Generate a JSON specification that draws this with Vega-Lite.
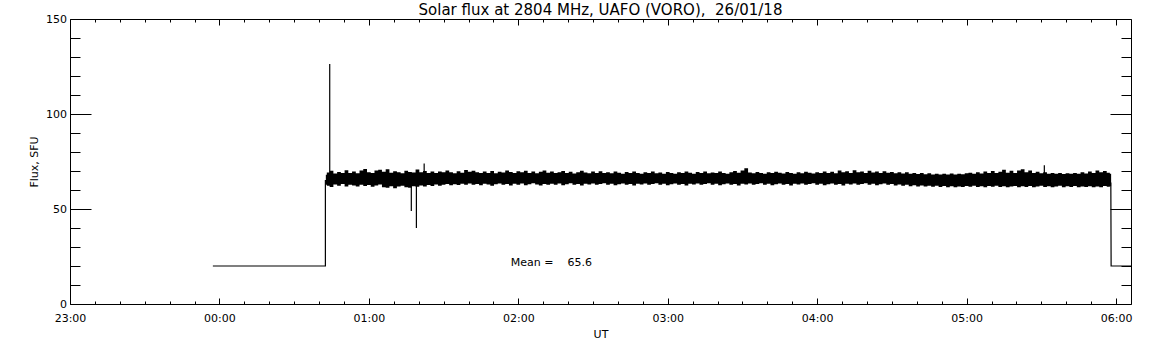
{
  "$schema": "https://vega.github.io/schema/vega-lite/v6.json",
  "width": 1061,
  "height": 285,
  "autosize": {"type": "none"},
  "padding": {"left": 70, "top": 19, "right": 21, "bottom": 41},
  "background": "white",
  "title": {"text": "Solar flux at 2804 MHz, UAFO (VORO),\u00a0 26/01/18", "font": "DejaVu Sans", "fontSize": 15, "letterSpacing": 0.2, "fontWeight": "normal", "color": "black", "offset": -5},
  "datasets": {
    "band": [
      {"t":0.712,"l":62.8,"h":68.0},{"t":0.725,"l":62.3,"h":69.2},{"t":0.75,"l":61.6,"h":70.1},{"t":0.775,"l":62.9,"h":68.7},{"t":0.8,"l":62.2,"h":69.5},{"t":0.825,"l":63.1,"h":68.9},{"t":0.85,"l":61.8,"h":70.4},{"t":0.875,"l":62.7,"h":69.0},
      {"t":0.9,"l":62.4,"h":69.8},{"t":0.925,"l":61.9,"h":68.8},{"t":0.95,"l":62.8,"h":70.3},{"t":0.975,"l":62.1,"h":71.0},{"t":1.0,"l":62.6,"h":69.4},{"t":1.025,"l":61.7,"h":69.0},{"t":1.05,"l":62.4,"h":70.2},{"t":1.075,"l":62.9,"h":70.7},
      {"t":1.1,"l":61.5,"h":69.6},{"t":1.125,"l":61.2,"h":70.9},{"t":1.15,"l":62.0,"h":69.1},{"t":1.175,"l":60.9,"h":69.9},{"t":1.2,"l":61.8,"h":69.3},{"t":1.225,"l":62.3,"h":68.8},{"t":1.25,"l":61.5,"h":70.1},{"t":1.275,"l":61.2,"h":69.5},
      {"t":1.3,"l":62.0,"h":69.2},{"t":1.325,"l":61.7,"h":70.8},{"t":1.35,"l":62.4,"h":69.4},{"t":1.375,"l":61.9,"h":70.0},{"t":1.4,"l":62.6,"h":69.0},{"t":1.425,"l":62.1,"h":69.7},{"t":1.45,"l":62.9,"h":68.9},{"t":1.475,"l":62.3,"h":69.8},
      {"t":1.5,"l":62.8,"h":69.3},{"t":1.525,"l":63.2,"h":70.2},{"t":1.55,"l":62.5,"h":69.4},{"t":1.575,"l":63.0,"h":68.8},{"t":1.6,"l":62.6,"h":69.9},{"t":1.625,"l":63.3,"h":69.1},{"t":1.65,"l":62.7,"h":70.5},{"t":1.675,"l":63.4,"h":69.6},
      {"t":1.7,"l":62.8,"h":70.1},{"t":1.725,"l":63.1,"h":69.3},{"t":1.75,"l":62.5,"h":68.9},{"t":1.775,"l":63.3,"h":69.8},{"t":1.8,"l":62.9,"h":69.0},{"t":1.825,"l":62.3,"h":70.0},{"t":1.85,"l":63.0,"h":68.8},{"t":1.875,"l":63.4,"h":69.6},
      {"t":1.9,"l":62.7,"h":69.2},{"t":1.925,"l":63.2,"h":70.3},{"t":1.95,"l":62.4,"h":69.5},{"t":1.975,"l":63.3,"h":68.9},{"t":2.0,"l":62.8,"h":69.9},{"t":2.025,"l":63.4,"h":69.3},{"t":2.05,"l":62.5,"h":70.1},{"t":2.075,"l":63.0,"h":69.0},
      {"t":2.1,"l":63.5,"h":69.7},{"t":2.125,"l":62.9,"h":68.8},{"t":2.15,"l":62.4,"h":69.6},{"t":2.175,"l":63.2,"h":70.2},{"t":2.2,"l":62.7,"h":69.1},{"t":2.225,"l":63.3,"h":69.8},{"t":2.25,"l":62.8,"h":68.9},{"t":2.275,"l":63.4,"h":69.4},
      {"t":2.3,"l":62.5,"h":70.0},{"t":2.325,"l":63.0,"h":69.0},{"t":2.35,"l":63.5,"h":69.6},{"t":2.375,"l":62.8,"h":68.7},{"t":2.4,"l":63.2,"h":69.3},{"t":2.425,"l":62.4,"h":70.1},{"t":2.45,"l":63.3,"h":69.2},{"t":2.475,"l":62.9,"h":68.8},
      {"t":2.5,"l":63.4,"h":69.7},{"t":2.525,"l":62.7,"h":69.0},{"t":2.55,"l":63.1,"h":69.9},{"t":2.575,"l":63.5,"h":68.9},{"t":2.6,"l":62.8,"h":69.4},{"t":2.625,"l":63.3,"h":68.8},{"t":2.65,"l":62.5,"h":69.7},{"t":2.675,"l":63.0,"h":69.1},
      {"t":2.7,"l":63.4,"h":68.6},{"t":2.725,"l":62.8,"h":69.5},{"t":2.75,"l":63.2,"h":68.9},{"t":2.775,"l":62.4,"h":69.8},{"t":2.8,"l":63.3,"h":69.0},{"t":2.825,"l":62.9,"h":68.5},{"t":2.85,"l":63.4,"h":69.4},{"t":2.875,"l":62.7,"h":68.9},
      {"t":2.9,"l":63.1,"h":69.7},{"t":2.925,"l":63.5,"h":68.8},{"t":2.95,"l":62.8,"h":69.2},{"t":2.975,"l":63.3,"h":68.6},{"t":3.0,"l":62.5,"h":69.5},{"t":3.025,"l":63.0,"h":69.0},{"t":3.05,"l":63.4,"h":68.5},{"t":3.075,"l":62.7,"h":69.4},
      {"t":3.1,"l":63.2,"h":68.9},{"t":3.125,"l":62.4,"h":69.7},{"t":3.15,"l":63.3,"h":69.1},{"t":3.175,"l":62.9,"h":68.6},{"t":3.2,"l":63.4,"h":69.5},{"t":3.225,"l":62.7,"h":69.0},{"t":3.25,"l":63.1,"h":69.8},{"t":3.275,"l":63.5,"h":68.8},
      {"t":3.3,"l":62.8,"h":69.2},{"t":3.325,"l":63.3,"h":68.9},{"t":3.35,"l":62.5,"h":69.7},{"t":3.375,"l":63.0,"h":69.0},{"t":3.4,"l":63.4,"h":68.6},{"t":3.425,"l":62.8,"h":69.4},{"t":3.45,"l":63.2,"h":70.0},{"t":3.475,"l":62.4,"h":69.1},
      {"t":3.5,"l":63.3,"h":70.3},{"t":3.525,"l":62.9,"h":71.5},{"t":3.55,"l":63.4,"h":69.2},{"t":3.575,"l":62.7,"h":68.8},{"t":3.6,"l":63.1,"h":69.5},{"t":3.625,"l":63.5,"h":69.0},{"t":3.65,"l":62.8,"h":68.6},{"t":3.675,"l":63.3,"h":69.3},
      {"t":3.7,"l":62.5,"h":68.9},{"t":3.725,"l":63.0,"h":69.6},{"t":3.75,"l":63.4,"h":69.1},{"t":3.775,"l":62.7,"h":68.7},{"t":3.8,"l":63.2,"h":69.5},{"t":3.825,"l":62.4,"h":69.0},{"t":3.85,"l":63.3,"h":68.6},{"t":3.875,"l":62.9,"h":69.3},
      {"t":3.9,"l":63.4,"h":68.8},{"t":3.925,"l":62.7,"h":69.6},{"t":3.95,"l":63.1,"h":69.1},{"t":3.975,"l":63.5,"h":68.7},{"t":4.0,"l":62.8,"h":69.4},{"t":4.025,"l":63.3,"h":68.9},{"t":4.05,"l":62.5,"h":69.8},{"t":4.075,"l":63.0,"h":69.0},
      {"t":4.1,"l":63.4,"h":69.6},{"t":4.125,"l":62.8,"h":68.8},{"t":4.15,"l":63.2,"h":70.2},{"t":4.175,"l":62.4,"h":69.3},{"t":4.2,"l":63.3,"h":69.9},{"t":4.225,"l":62.9,"h":69.0},{"t":4.25,"l":63.4,"h":70.4},{"t":4.275,"l":62.7,"h":69.3},
      {"t":4.3,"l":63.1,"h":69.8},{"t":4.325,"l":63.5,"h":69.0},{"t":4.35,"l":62.8,"h":70.1},{"t":4.375,"l":63.3,"h":69.2},{"t":4.4,"l":62.5,"h":69.7},{"t":4.425,"l":63.0,"h":68.9},{"t":4.45,"l":63.4,"h":69.9},{"t":4.475,"l":62.7,"h":69.1},
      {"t":4.5,"l":63.1,"h":69.5},{"t":4.525,"l":62.4,"h":68.8},{"t":4.55,"l":62.9,"h":69.4},{"t":4.575,"l":62.2,"h":68.7},{"t":4.6,"l":62.7,"h":69.3},{"t":4.625,"l":62.0,"h":68.6},{"t":4.65,"l":62.5,"h":69.0},{"t":4.675,"l":61.9,"h":68.4},
      {"t":4.7,"l":62.4,"h":68.9},{"t":4.725,"l":61.8,"h":68.3},{"t":4.75,"l":62.3,"h":68.8},{"t":4.775,"l":61.7,"h":68.2},{"t":4.8,"l":62.2,"h":68.6},{"t":4.825,"l":61.6,"h":68.1},{"t":4.85,"l":62.1,"h":68.5},{"t":4.875,"l":61.5,"h":68.2},
      {"t":4.9,"l":62.0,"h":68.7},{"t":4.925,"l":61.4,"h":68.1},{"t":4.95,"l":61.9,"h":68.6},{"t":4.975,"l":61.6,"h":68.3},{"t":5.0,"l":62.1,"h":68.8},{"t":5.025,"l":61.7,"h":69.1},{"t":5.05,"l":62.2,"h":68.5},{"t":5.075,"l":61.6,"h":69.4},
      {"t":5.1,"l":62.0,"h":68.7},{"t":5.125,"l":61.5,"h":69.7},{"t":5.15,"l":62.1,"h":68.9},{"t":5.175,"l":61.7,"h":70.0},{"t":5.2,"l":62.2,"h":69.0},{"t":5.225,"l":61.6,"h":69.6},{"t":5.25,"l":62.0,"h":70.6},{"t":5.275,"l":61.4,"h":69.1},
      {"t":5.3,"l":61.9,"h":70.1},{"t":5.325,"l":62.1,"h":68.9},{"t":5.35,"l":61.5,"h":70.3},{"t":5.375,"l":62.0,"h":70.9},{"t":5.4,"l":61.6,"h":69.4},{"t":5.425,"l":62.1,"h":70.2},{"t":5.45,"l":61.4,"h":69.0},{"t":5.475,"l":61.9,"h":69.6},
      {"t":5.5,"l":62.2,"h":68.8},{"t":5.525,"l":61.6,"h":69.3},{"t":5.55,"l":62.0,"h":68.6},{"t":5.575,"l":61.4,"h":69.0},{"t":5.6,"l":61.9,"h":68.5},{"t":5.625,"l":62.2,"h":68.9},{"t":5.65,"l":61.5,"h":68.4},{"t":5.675,"l":62.0,"h":68.8},
      {"t":5.7,"l":61.6,"h":68.5},{"t":5.725,"l":62.1,"h":69.0},{"t":5.75,"l":61.4,"h":68.6},{"t":5.775,"l":61.9,"h":69.4},{"t":5.8,"l":61.6,"h":68.7},{"t":5.825,"l":62.0,"h":69.8},{"t":5.85,"l":61.4,"h":68.9},{"t":5.875,"l":61.9,"h":70.3},
      {"t":5.9,"l":61.5,"h":69.4},{"t":5.925,"l":62.1,"h":70.0},{"t":5.95,"l":61.7,"h":69.1},{"t":5.967,"l":62.0,"h":68.6}
    ],
    "base": [
      {"seg":"a","i":1,"t":-0.044,"v":20},{"seg":"a","i":2,"t":0.709,"v":20},{"seg":"a","i":3,"t":0.709,"v":65},{"seg":"a","i":4,"t":0.714,"v":65},
      {"seg":"b","i":1,"t":5.965,"v":64},{"seg":"b","i":2,"t":5.967,"v":20},{"seg":"b","i":3,"t":6.1,"v":20}
    ],
    "spikes": [
      {"t":0.738,"a":64,"b":126.3},{"t":1.284,"a":63,"b":49},{"t":1.318,"a":63,"b":40},{"t":1.37,"a":68,"b":74},{"t":5.52,"a":68,"b":73}
    ],
    "note": [
      {"t":1.95,"v":21.6,"label":"Mean =\u00a0\u00a0\u00a0 65.6"}
    ]
  },
  "layer": [
    {
      "data": {"name": "band"},
      "mark": {"type": "area", "interpolate": "step", "color": "black"},
      "encoding": {
        "x": {"field": "t", "type": "quantitative",
          "scale": {"domain": [-1, 6.1], "nice": false, "zero": false},
          "axis": {"orient": "bottom", "title": "UT", "titlePadding": 2,
            "values": [-1,-0.8333,-0.6667,-0.5,-0.3333,-0.1667,0,0.1667,0.3333,0.5,0.6667,0.8333,1,1.1667,1.3333,1.5,1.6667,1.8333,2,2.1667,2.3333,2.5,2.6667,2.8333,3,3.1667,3.3333,3.5,3.6667,3.8333,4,4.1667,4.3333,4.5,4.6667,4.8333,5,5.1667,5.3333,5.5,5.6667,5.8333,6],
            "labelExpr": "abs(datum.value-round(datum.value))<0.01 ? (datum.value < -0.5 ? '23:00' : '0' + round(datum.value) + ':00') : ''",
            "labelOverlap": false, "labelFlush": false, "labelPadding": 14,
            "tickSize": {"condition": {"test": "abs(datum.value-round(datum.value))<0.01", "value": -6}, "value": -3}}},
        "y": {"field": "l", "type": "quantitative",
          "scale": {"domain": [0, 150], "nice": false, "zero": false},
          "axis": {"orient": "left", "title": "Flux, SFU", "titlePadding": 6,
            "values": [0,10,20,30,40,50,60,70,80,90,100,110,120,130,140,150],
            "labelExpr": "datum.value % 50 === 0 ? datum.label : ''",
            "labelOverlap": false, "labelFlush": false, "labelPadding": 24.5,
            "tickSize": {"condition": {"test": "datum.value % 50 === 0", "value": -21}, "value": -10}}},
        "y2": {"field": "h"}
      }
    },
    {
      "data": {"name": "base"},
      "mark": {"type": "line", "color": "black", "strokeWidth": 1.2},
      "encoding": {
        "x": {"field": "t", "type": "quantitative",
          "axis": {"orient": "top", "title": null, "labels": false,
            "values": [-1,-0.8333,-0.6667,-0.5,-0.3333,-0.1667,0,0.1667,0.3333,0.5,0.6667,0.8333,1,1.1667,1.3333,1.5,1.6667,1.8333,2,2.1667,2.3333,2.5,2.6667,2.8333,3,3.1667,3.3333,3.5,3.6667,3.8333,4,4.1667,4.3333,4.5,4.6667,4.8333,5,5.1667,5.3333,5.5,5.6667,5.8333,6],
            "tickSize": {"condition": {"test": "abs(datum.value-round(datum.value))<0.01", "value": -6}, "value": -3}}},
        "y": {"field": "v", "type": "quantitative",
          "axis": {"orient": "right", "title": null, "labels": false,
            "values": [0,10,20,30,40,50,60,70,80,90,100,110,120,130,140,150],
            "tickSize": {"condition": {"test": "datum.value % 50 === 0", "value": -21}, "value": -10}}},
        "detail": {"field": "seg"},
        "order": {"field": "i", "type": "quantitative"}
      }
    },
    {
      "data": {"name": "spikes"},
      "mark": {"type": "rule", "color": "black", "strokeWidth": 1.2},
      "encoding": {
        "x": {"field": "t", "type": "quantitative", "axis": null},
        "y": {"field": "a", "type": "quantitative", "axis": null},
        "y2": {"field": "b"}
      }
    },
    {
      "data": {"name": "note"},
      "mark": {"type": "text", "align": "left", "baseline": "middle", "font": "DejaVu Sans", "fontSize": 11, "color": "black"},
      "encoding": {
        "x": {"field": "t", "type": "quantitative", "axis": null},
        "y": {"field": "v", "type": "quantitative", "axis": null},
        "text": {"field": "label"}
      }
    }
  ],
  "resolve": {"scale": {"x": "shared", "y": "shared"}, "axis": {"x": "independent", "y": "independent"}},
  "config": {
    "view": {"stroke": null},
    "axis": {"labelFont": "DejaVu Sans", "titleFont": "DejaVu Sans", "labelFontSize": 11, "titleFontSize": 11, "titleFontWeight": "normal", "labelColor": "black", "titleColor": "black", "tickColor": "black", "domainColor": "black", "grid": false, "tickWidth": 1, "domainWidth": 1}
  }
}
